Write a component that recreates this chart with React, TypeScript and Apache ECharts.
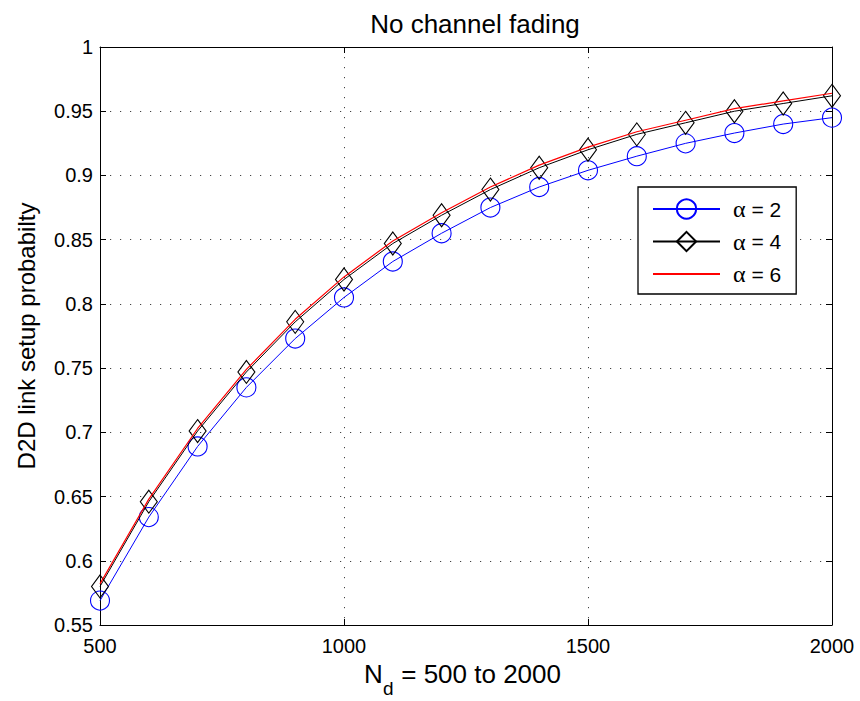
import React, { useEffect, useRef } from "react";
import * as echarts from "echarts";

const xValues = [500, 600, 700, 800, 900, 1000, 1100, 1200, 1300, 1400, 1500, 1600, 1700, 1800, 1900, 2000];
const alpha2 = [0.569, 0.634, 0.689, 0.735, 0.773, 0.805, 0.833, 0.855, 0.875, 0.891, 0.904, 0.915, 0.925, 0.933, 0.94, 0.945];
const alpha4 = [0.58, 0.646, 0.701, 0.747, 0.786, 0.819, 0.847, 0.869, 0.889, 0.906, 0.92, 0.932, 0.941, 0.95, 0.956, 0.962];
const alpha6 = [0.582, 0.648, 0.703, 0.749, 0.788, 0.821, 0.849, 0.871, 0.891, 0.908, 0.922, 0.934, 0.943, 0.952, 0.958, 0.964];
const seriesNames = ["α = 2", "α = 4", "α = 6"];
const titleText = "No channel fading";
const yAxisTitle = "D2D link setup probabilty";
const xAxisMain = "N";
const xAxisSub = "d";
const xAxisRest = " = 500 to 2000";

const FONT = "'Liberation Sans', Arial, sans-serif";
const SERIF = "'Liberation Serif', 'Times New Roman', serif";

export default function App() {
  const ref = useRef<HTMLDivElement>(null);
  useEffect(() => {
    if (!ref.current) return;
    const chart = echarts.init(ref.current, null, { renderer: "svg" });
    const pair = (ys: number[]) => xValues.map((x, i) => [x, ys[i]]);
    const gridLine = { show: true, lineStyle: { color: "#444", width: 1, type: [1.2, 8.8] as any } };
    const boxAxis = {
      axisLine: { show: true, onZero: false, lineStyle: { color: "#000", width: 1 } },
      axisTick: { show: true, inside: true, length: 6, lineStyle: { color: "#000" } },
    };
    chart.setOption({
      animation: false,
      backgroundColor: "#fff",
      textStyle: { fontFamily: FONT },
      title: {
        text: titleText,
        left: 470,
        textAlign: "center",
        top: 6,
        textStyle: { fontFamily: FONT, fontSize: 26, fontWeight: "normal", color: "#000" },
      },
      grid: { left: 100, right: 28, top: 47, bottom: 76 },
      legend: {
        orient: "vertical",
        left: 638,
        top: 187,
        padding: [10, 15, 8, 14],
        itemWidth: 67,
        itemHeight: 24,
        itemGap: 8.5,
        borderColor: "#000",
        borderWidth: 1.3,
        backgroundColor: "#fff",
        formatter: (name: string) => `{g|${name.slice(0, 1)}}{t|${name.slice(1)}}`,
        textStyle: {
          color: "#000",
          padding: [0, 0, 0, 8],
          width: 51,
          rich: {
            g: { fontFamily: SERIF, fontSize: 24, color: "#000" },
            t: { fontFamily: FONT, fontSize: 21, color: "#000" },
          },
        },
        data: [
          { name: seriesNames[0] },
          { name: seriesNames[1] },
          { name: seriesNames[2], itemStyle: { color: "rgba(0,0,0,0)", borderColor: "rgba(0,0,0,0)", borderWidth: 0 } },
        ],
      },
      graphic: [
        {
          type: "text",
          x: 364,
          y: 674,
          style: { text: xAxisMain, fontFamily: FONT, fontSize: 26, fill: "#000", verticalAlign: "middle", align: "left" },
        },
        {
          type: "text",
          x: 383,
          y: 688,
          style: { text: xAxisSub, fontFamily: FONT, fontSize: 19, fill: "#000", verticalAlign: "middle", align: "left" },
        },
        {
          type: "text",
          x: 394,
          y: 674,
          style: { text: xAxisRest, fontFamily: FONT, fontSize: 26, fill: "#000", verticalAlign: "middle", align: "left" },
        },
      ],
      xAxis: [
        {
          type: "value",
          min: 500,
          max: 2000,
          interval: 500,
          ...boxAxis,
          splitLine: gridLine,
          axisLabel: {
            fontFamily: FONT,
            fontSize: 20,
            color: "#000",
            margin: 11,
            showMinLabel: true,
            showMaxLabel: true,
            formatter: (v: number) => String(v),
          },
        },
        {
          type: "value",
          position: "top",
          min: 500,
          max: 2000,
          interval: 500,
          ...boxAxis,
          axisLabel: { show: false },
          splitLine: { show: false },
        },
      ],
      yAxis: [
        {
          type: "value",
          min: 0.55,
          max: 1,
          interval: 0.05,
          ...boxAxis,
          splitLine: gridLine,
          axisLabel: {
            fontFamily: FONT,
            fontSize: 20,
            color: "#000",
            margin: 7,
            showMinLabel: true,
            showMaxLabel: true,
            formatter: (v: number) => String(Number(v.toFixed(2))),
          },
          name: yAxisTitle,
          nameLocation: "middle",
          nameGap: 62,
          nameTextStyle: { fontFamily: FONT, fontSize: 24, color: "#000" },
        },
        {
          type: "value",
          position: "right",
          min: 0.55,
          max: 1,
          interval: 0.05,
          ...boxAxis,
          axisLabel: { show: false },
          splitLine: { show: false },
        },
      ],
      series: [
        {
          name: seriesNames[0],
          type: "line",
          data: pair(alpha2),
          symbol: "circle",
          symbolSize: 19,
          lineStyle: { color: "#0000ff", width: 1 },
          itemStyle: { color: "rgba(0,0,0,0)", borderColor: "#0000ff", borderWidth: 1.1 },
          z: 3,
        },
        {
          name: seriesNames[1],
          type: "line",
          data: pair(alpha4),
          symbol: "diamond",
          symbolSize: [17, 23],
          lineStyle: { color: "#000", width: 1 },
          itemStyle: { color: "rgba(0,0,0,0)", borderColor: "#000", borderWidth: 1.1 },
          z: 4,
        },
        {
          name: seriesNames[2],
          type: "line",
          data: pair(alpha6),
          symbol: "none",
          showSymbol: false,
          lineStyle: { color: "#ff0000", width: 1.2 },
          itemStyle: { color: "#ff0000" },
          z: 5,
        },
      ],
    });
    return () => chart.dispose();
  }, []);
  return <div ref={ref} style={{ width: 860, height: 701, position: "absolute", left: 0, top: 0 }} />;
}
